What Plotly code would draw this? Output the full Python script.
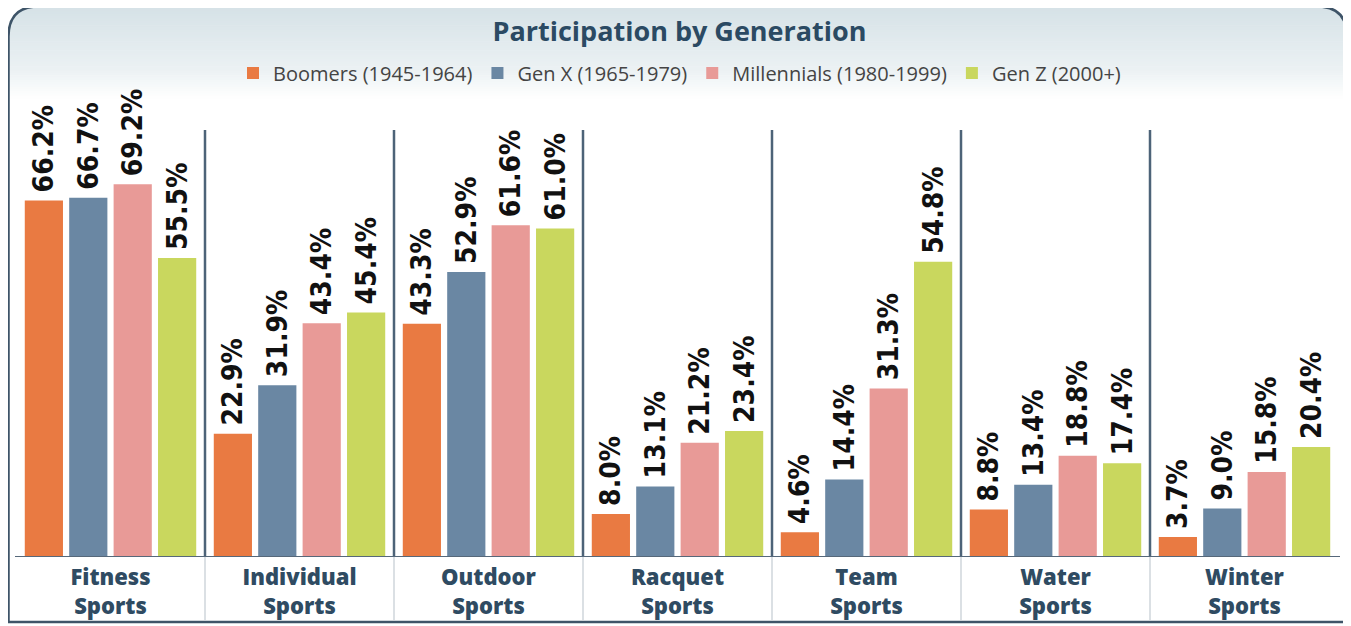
import plotly.graph_objects as go

# page body adds an 8px margin; figure is sized/positioned to compensate
OFF = 8
W, H = 1351 - OFF, 626 - OFF

categories = ["Fitness Sports", "Individual Sports", "Outdoor Sports", "Racquet Sports",
              "Team Sports", "Water Sports", "Winter Sports"]
series_names = ["Boomers (1945-1964)", "Gen X (1965-1979)", "Millennials (1980-1999)", "Gen Z (2000+)"]
boomers = [66.2, 22.9, 43.3, 8.0, 4.6, 8.8, 3.7]
gen_x = [66.7, 31.9, 52.9, 13.1, 14.4, 13.4, 9.0]
millennials = [69.2, 43.4, 61.6, 21.2, 31.3, 18.8, 15.8]
gen_z = [55.5, 45.4, 61.0, 23.4, 54.8, 17.4, 20.4]
colors = ["#e97a42", "#6a87a3", "#e89a97", "#c9d75e"]
title_text = "Participation by Generation"


def px(x):
    return (x - OFF) / W


def py(y):
    return 1 - (y - OFF) / H


fig = go.Figure()
xs = list(range(len(categories)))
for name, vals, col in zip(series_names, [boomers, gen_x, millennials, gen_z], colors):
    fig.add_trace(go.Bar(
        x=xs, y=vals, name=name, marker=dict(color=col, line=dict(width=0)),
        text=[f"\u2009{v:.1f}%" for v in vals], textposition="outside", textangle=-90,
        cliponaxis=False, constraintext="none",
        textfont=dict(family="DejaVu Sans Condensed", size=28, color="#111111", weight="bold"),
    ))

shapes = []
# header gradient bands
top_c = (214, 226, 231)
mid_c = (236, 242, 244)
bot_c = (255, 255, 255)
y0, y1, y2 = 7, 70, 98
n = 40
for i in range(n):
    ya = y0 + (y2 - y0) * i / n
    yb = y0 + (y2 - y0) * (i + 1) / n
    yc = (ya + yb) / 2
    if yc < y1:
        t = (yc - y0) / (y1 - y0)
        c = tuple(int(top_c[k] + (mid_c[k] - top_c[k]) * t) for k in range(3))
    else:
        t = (yc - y1) / (y2 - y1)
        c = tuple(int(mid_c[k] + (bot_c[k] - mid_c[k]) * t) for k in range(3))
    shapes.append(dict(type="rect", xref="paper", yref="paper", layer="below",
                       x0=px(9), x1=px(1346), y0=py(ya), y1=py(yb + 0.6),
                       fillcolor="rgb(%d,%d,%d)" % c, line=dict(width=0)))

R = 30
L, T, Rt, B = 8.5, 6.5, 1347, 622
# corner masks (white outside the rounded corners)
shapes.append(dict(type="path", xref="paper", yref="paper", layer="below",
                   path=f"M {px(L-2)},{py(T-2)} L {px(L+R)},{py(T-2)} L {px(L+R)},{py(T)} "
                        f"Q {px(L)},{py(T)} {px(L)},{py(T+R)} L {px(L-2)},{py(T+R)} Z",
                   fillcolor="white", line=dict(width=0)))
shapes.append(dict(type="path", xref="paper", yref="paper", layer="below",
                   path=f"M {px(Rt+2)},{py(T-2)} L {px(Rt-R)},{py(T-2)} L {px(Rt-R)},{py(T)} "
                        f"Q {px(Rt)},{py(T)} {px(Rt)},{py(T+R)} L {px(Rt+2)},{py(T+R)} Z",
                   fillcolor="white", line=dict(width=0)))
# frame border
shapes.append(dict(type="path", xref="paper", yref="paper", layer="above",
                   path=f"M {px(L)},{py(B)} L {px(L)},{py(T+R)} Q {px(L)},{py(T)} {px(L+R)},{py(T)} "
                        f"L {px(Rt-R)},{py(T)} Q {px(Rt)},{py(T)} {px(Rt)},{py(T+R)} "
                        f"L {px(Rt)},{py(B)} Z",
                   line=dict(color="#3e5468", width=2.5)))

# category dividers
for i in range(len(categories) - 1):
    shapes.append(dict(type="line", xref="x", yref="paper", x0=i + 0.5, x1=i + 0.5,
                       y0=py(557), y1=py(130), line=dict(color="#4d6378", width=2.5)))
    shapes.append(dict(type="line", xref="x", yref="paper", x0=i + 0.5, x1=i + 0.5,
                       y0=py(620), y1=py(557), line=dict(color="#cfd6db", width=1.5)))
# baseline
shapes.append(dict(type="line", xref="paper", yref="y", x0=px(15), x1=px(1340), y0=0, y1=0,
                   line=dict(color="#56687a", width=2)))

fig.update_layout(
    width=W, height=H,
    margin=dict(l=0, r=0, t=0, b=0),
    paper_bgcolor="white", plot_bgcolor="rgba(0,0,0,0)",
    barmode="group", bargap=0.06, bargroupgap=0.14,
    title=dict(text=title_text, x=0.5, xanchor="center", y=py(32), yanchor="middle",
               font=dict(family="Open Sans", size=27, color="#2b4a63", weight="bold")),
    legend=dict(orientation="h", x=0.5, xanchor="center", y=py(73), yanchor="middle",
                font=dict(family="Open Sans", size=20, color="#444444"),
                bgcolor="rgba(0,0,0,0)", itemclick=False, traceorder="normal"),
    xaxis=dict(domain=[px(16), px(1339)], range=[-0.5, len(categories) - 0.5],
               tickvals=xs, ticktext=[c.replace(" ", "<br>") for c in categories],
               tickfont=dict(family="Open Sans", size=22, color="#2f4b62", weight=800),
               ticklabelstandoff=5,
               showgrid=False, zeroline=False, showline=False, ticks=""),
    yaxis=dict(domain=[py(557), py(83)], range=[0, 88], visible=False,
               showgrid=False, zeroline=False),
    shapes=shapes,
)

fig.write_html("out.html")
